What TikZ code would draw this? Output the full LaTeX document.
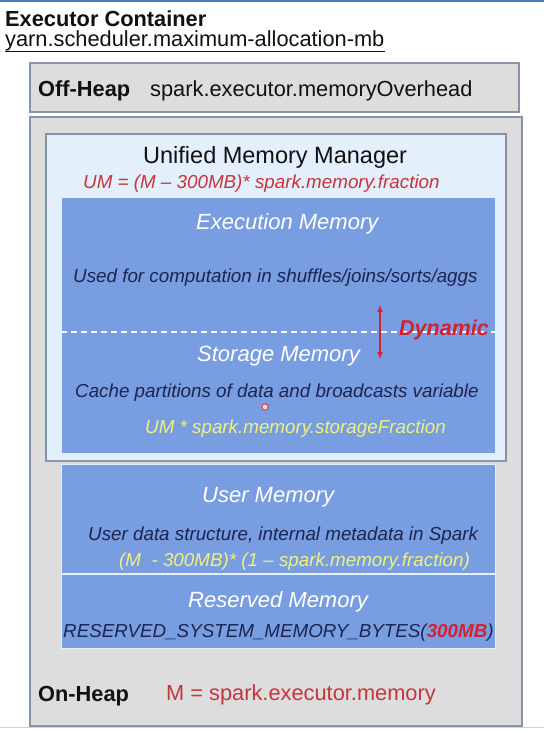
\documentclass[tikz,border=0pt]{standalone}
\usepackage{fontspec}
\setmainfont{Liberation Sans}
\usepackage{tikz}
\usetikzlibrary{arrows.meta,positioning}
\definecolor{ink}{HTML}{111111}
\definecolor{navy}{HTML}{1C2452}
\definecolor{frame}{HTML}{8894A8}
\definecolor{heap}{HTML}{DDDDDD}
\definecolor{umbg}{HTML}{E3EFFA}
\definecolor{memblue}{HTML}{789DE0}
\definecolor{formred}{HTML}{C7343C}
\definecolor{dynred}{HTML}{D5212E}
\definecolor{formyel}{HTML}{F0F27A}
\definecolor{topbar}{HTML}{4D7CC4}

\begin{document}
\begin{tikzpicture}[x=1pt,y=-1pt,
  hdr/.style={font=\bfseries\fontsize{21.8}{26}\selectfont,text=ink,inner sep=0pt,anchor=base west},
  prop/.style={font=\fontsize{21.8}{26}\selectfont,text=ink,inner sep=0pt,anchor=base west},
  ttl/.style={font=\itshape\fontsize{22}{26}\selectfont,text=white,inner sep=0pt,anchor=base west},
  desc/.style={font=\itshape\fontsize{18.8}{22}\selectfont,text=navy,inner sep=0pt,anchor=base west},
  form/.style={font=\itshape\fontsize{18.8}{22}\selectfont,inner sep=0pt,anchor=base west},
  heapbox/.style={fill=heap,draw=frame,line width=1.2pt},
  membox/.style={fill=memblue,draw=umbg,line width=1pt}]
\useasboundingbox (0,0) rectangle (544,730);
\fill[white] (0,0) rectangle (544,730);
\fill[topbar] (0,0) rectangle (544,2);
\draw[frame!40,line width=0.8pt] (0,727) -- (544,727);
% container header
\node[hdr] (cont) at (5,27) {Executor Container};
\node[prop] (yarn) at (5,47) {yarn.scheduler.maximum-allocation-mb};
\draw[ink,line width=0.9pt] ([yshift=-4pt]yarn.base west) -- ([yshift=-4pt]yarn.base east);
% off-heap
\draw[heapbox] (30,63) rectangle (519,112);
\node[hdr] (off) at (38,97) {Off-Heap};
\node[prop] (offval) at (150,97) {spark.executor.memoryOverhead};
% on-heap
\draw[heapbox] (30,117) rectangle (522,726);
\draw[fill=umbg,draw=frame,line width=1.4pt] (46,134) rectangle (506,461);
\node[prop,font=\fontsize{23.5}{28}\selectfont] (umm) at (143,164) {Unified Memory Manager};
\node[form,text=formred] (umf) at (83,189) {UM = (M – 300MB)* spark.memory.fraction};
% execution / storage
\draw[membox] (61,197) rectangle (495,453);
\draw[white,dash pattern=on 6pt off 4pt,line width=1.2pt] (61,332) -- (495,332);
\node[ttl] (exec) at (196,229) {Execution Memory};
\node[desc] (execd) at (73,282) {Used for computation in shuffles/joins/sorts/aggs};
\node[ttl] (stor) at (197,361) {Storage Memory};
\node[desc] (stord) at (75,397) {Cache partitions of data and broadcasts variable};
\node[form,text=formyel] (storf) at (145,433) {UM * spark.memory.storageFraction};
\coordinate (dyntop) at (380,305);
\coordinate (dynbot) at (380,359);
\draw[dynred,line width=1.2pt,{Latex[length=7pt,width=6pt]}-{Latex[length=7pt,width=6pt]}] (dyntop) -- (dynbot);
\node[hdr,font=\bfseries\itshape\fontsize{21.5}{26}\selectfont,text=dynred] (dyn) at (399,335) {Dynamic};
\draw[formred!85,line width=1.2pt,fill=red!15] (265,407) circle (3.2);
% user / reserved
\draw[membox] (61,464) rectangle (495,648);
\draw[umbg,line width=1.2pt] (61,574) -- (495,574);
\node[ttl] (user) at (202,502) {User Memory};
\node[desc] (userd) at (88,540) {User data structure, internal metadata in Spark};
\node[form,text=formyel] (userf) at (119,566) {(M\ \ - 300MB)* (1 – spark.memory.fraction)};
\node[ttl] (resv) at (188,607) {Reserved Memory};
\node[desc] (resvd) at (63,637) {RESERVED\_SYSTEM\_MEMORY\_BYTES(\textcolor{dynred}{\bfseries 300MB})};
\node[hdr] (on) at (38,701) {On-Heap};
\node[prop,text=formred] (onval) at (166,700) {M = spark.executor.memory};
\end{tikzpicture}
\end{document}
